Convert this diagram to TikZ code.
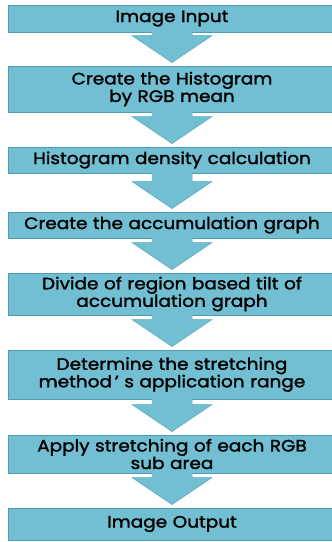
\documentclass[tikz,border=0pt]{standalone}
\usepackage{fontspec}
\newfontfamily\boxfont{Poppins}[FakeBold=1.6,FakeStretch=1.12]
\usetikzlibrary{calc}
\definecolor{boxfill}{HTML}{72BED3}
\definecolor{boxline}{HTML}{4F9DB2}
\tikzset{
  x=1pt,y=-1pt,
  stepbox/.style={rectangle,fill=boxfill,draw=boxline,line width=0.9pt,
    minimum width=327pt,inner sep=0pt,align=center,text width=325pt,
    font=\boxfont\fontsize{16.5}{17.5}\selectfont,text=black},
  flowarrow/.style={fill=boxfill,draw=boxline!70!boxfill,line width=0.5pt}
}
\newcommand{\flowarr}[2]{%
  \path let \p1=(#1.south), \p2=(#2.north) in
    coordinate (s) at (\x1,\y1)
    coordinate (t) at (\x1,\y2);
  \fill[boxfill] ($(s)+(-20,-1)$) rectangle ($(s)+(20,1)$);
  \draw[flowarrow] ($(s)+(-20,-0.5)$) -- ($(t)+(-20,-30)$) -- ($(t)+(-40,-30)$)
     -- ($(t)+(0,-3)$) -- ($(t)+(40,-30)$) -- ($(t)+(20,-30)$) -- ($(s)+(20,-0.5)$);
  \fill[boxfill] ($(s)+(-19.6,-1.2)$) rectangle ($(t)+(19.6,-29.5)$);
}
\begin{document}
\begin{tikzpicture}
\useasboundingbox (0,0) rectangle (332,542);
\clip (0,0) rectangle (332,542);
\node[stepbox,minimum height=27pt] (b1) at (172,18.5) {Image Input};
\node[stepbox,minimum height=46pt] (b2) at (172,89) {Create the Histogram\\by RGB mean};
\node[stepbox,minimum height=26pt] (b3) at (172,160) {Histogram density calculation};
\node[stepbox,minimum height=26pt] (b4) at (172,225) {Create the accumulation graph};
\node[stepbox,minimum height=42pt] (b5) at (172,294) {Divide of region based tilt of\\accumulation graph};
\node[stepbox,minimum height=49pt] (b6) at (172,374.5) {Determine the stretching\\method\,’ s application range};
\node[stepbox,minimum height=38pt] (b7) at (172,454) {Apply stretching of each RGB\\sub area};
\node[stepbox,minimum height=32pt] (b8) at (172,524) {Image Output};
\flowarr{b1}{b2}
\flowarr{b2}{b3}
\flowarr{b3}{b4}
\flowarr{b4}{b5}
\flowarr{b5}{b6}
\flowarr{b6}{b7}
\flowarr{b7}{b8}
\end{tikzpicture}
\end{document}
